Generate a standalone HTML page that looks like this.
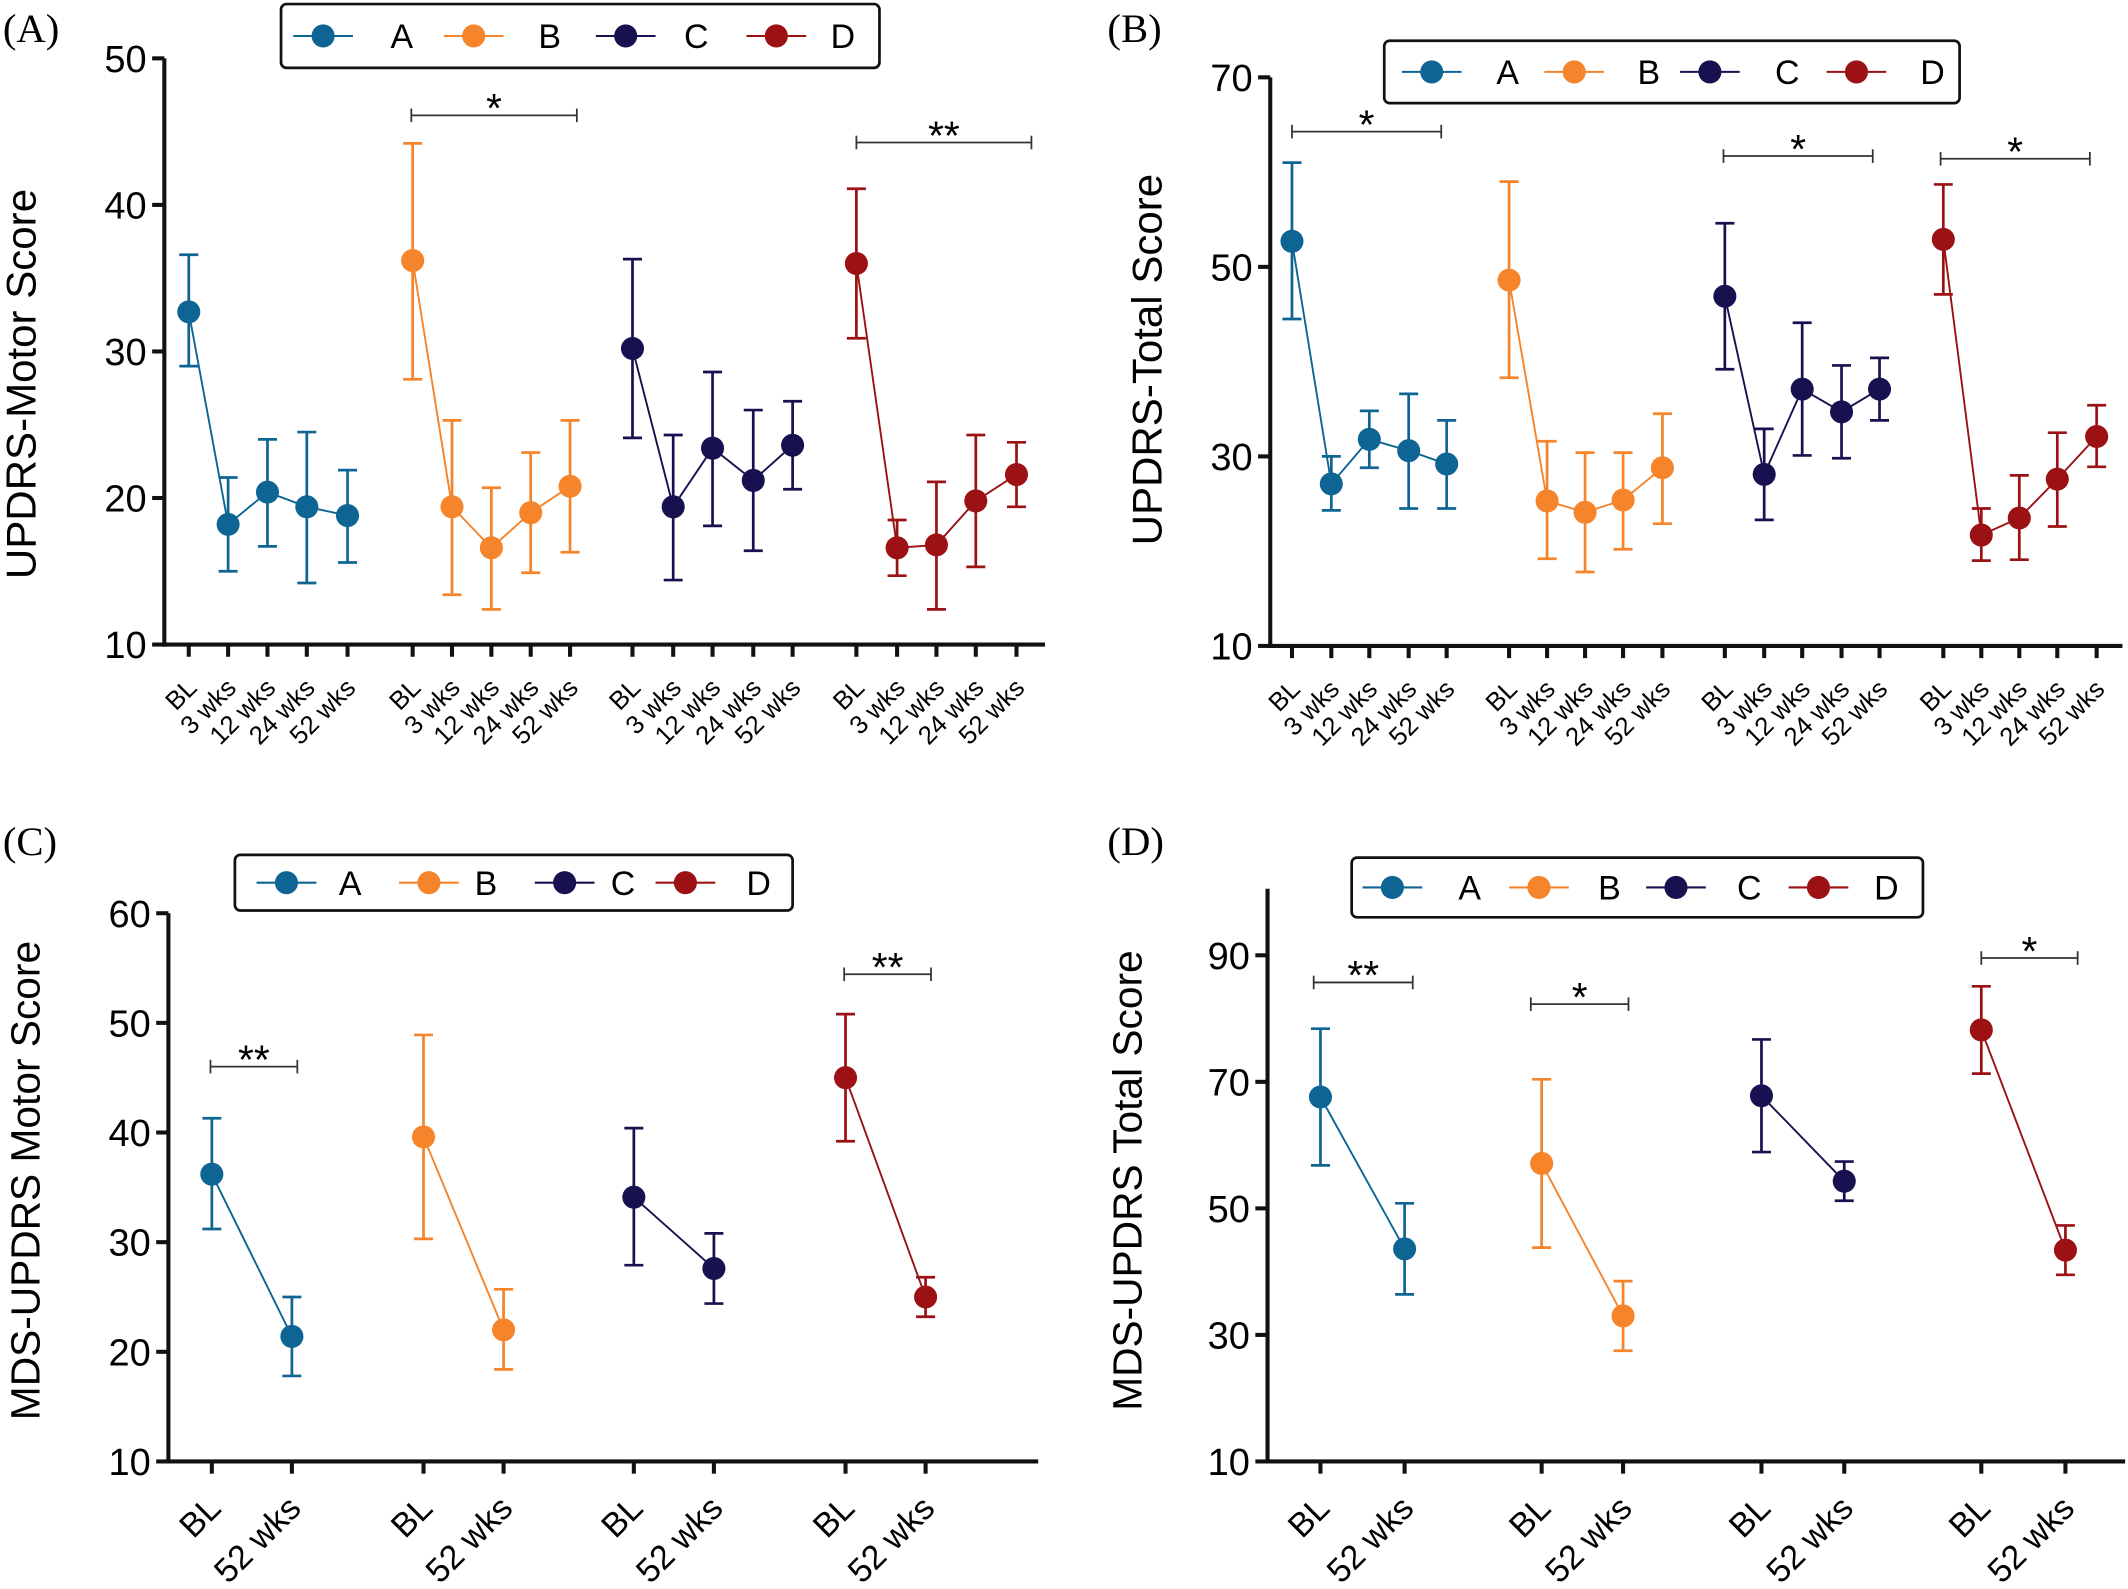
<!DOCTYPE html>
<html><head><meta charset="utf-8"><style>html,body{margin:0;padding:0;background:#fff}svg{display:block}</style></head>
<body>
<svg id="s" xmlns="http://www.w3.org/2000/svg" width="2128" height="1589" viewBox="0 0 1568 1171" font-family="Liberation Sans, Arial, sans-serif">
<rect width="1568" height="1171" fill="#fff"/>
<text x="2" y="31" font-family="Liberation Serif, serif" font-size="30">(A)</text>
<text x="816" y="31" font-family="Liberation Serif, serif" font-size="30">(B)</text>
<text x="2" y="630" font-family="Liberation Serif, serif" font-size="30">(C)</text>
<text x="816" y="630" font-family="Liberation Serif, serif" font-size="30">(D)</text>
<text transform="translate(26,283) rotate(-90)" text-anchor="middle" font-size="31">UPDRS-Motor Score</text>
<text transform="translate(856,265) rotate(-90)" text-anchor="middle" font-size="31">UPDRS-Total Score</text>
<text transform="translate(29,870) rotate(-90)" text-anchor="middle" font-size="30">MDS-UPDRS Motor Score</text>
<text transform="translate(841,870) rotate(-90)" text-anchor="middle" font-size="30">MDS-UPDRS Total Score</text>
<g id="g"></g>
</svg>
<script>
var C=["#0e6593","#f5842a","#17124f","#9b1114"];
var NS="http://www.w3.org/2000/svg",G=document.getElementById("g");
function el(t,a,txt){var e=document.createElementNS(NS,t);for(var k in a)e.setAttribute(k,a[k]);if(txt!==undefined)e.textContent=txt;G.appendChild(e);return e;}
function panel(p){
 function Y(v){return p.y0+(v-p.v0)*(p.y1-p.y0)/(p.v1-p.v0);}
 el("line",{x1:p.ax,y1:p.top,x2:p.ax,y2:p.y0+1.5,stroke:"#111","stroke-width":3});
 el("line",{x1:p.ax-1.5,y1:p.y0,x2:p.xe,y2:p.y0,stroke:"#111","stroke-width":3});
 p.yt.forEach(function(v){var y=Y(v);el("line",{x1:p.ax-9,y1:y,x2:p.ax,y2:y,stroke:"#111","stroke-width":3});
  el("text",{x:p.ax-13,y:y+10,"text-anchor":"end","font-size":28},String(v));});
 p.g.forEach(function(gr,gi){
  gr.x.forEach(function(x,i){el("line",{x1:x,y1:p.y0,x2:x,y2:p.y0+9,stroke:"#111","stroke-width":3});
   var lx=x+p.lo, ly=p.y0+p.ly;
   el("text",{transform:"translate("+lx+","+ly+") rotate(-45)","text-anchor":"end","font-size":p.fs},p.lab[i]);});
  var pts=gr.x.map(function(x,i){return x+","+Y(gr.d[i][0]);}).join(" ");
  el("polyline",{points:pts,fill:"none",stroke:C[gi],"stroke-width":1.4});
  gr.x.forEach(function(x,i){var d=gr.d[i],a=Y(d[1]),b=Y(d[2]);
   el("line",{x1:x,y1:a,x2:x,y2:b,stroke:C[gi],"stroke-width":2});
   el("line",{x1:x-7,y1:a,x2:x+7,y2:a,stroke:C[gi],"stroke-width":2});
   el("line",{x1:x-7,y1:b,x2:x+7,y2:b,stroke:C[gi],"stroke-width":2});
   el("circle",{cx:x,cy:Y(d[0]),r:8.5,fill:C[gi]});});
 });
 p.sig.forEach(function(s){el("line",{x1:s[0],y1:s[2],x2:s[1],y2:s[2],stroke:"#333","stroke-width":1.3});
  el("line",{x1:s[0],y1:s[2]-5,x2:s[0],y2:s[2]+5,stroke:"#333","stroke-width":1.3});
  el("line",{x1:s[1],y1:s[2]-5,x2:s[1],y2:s[2]+5,stroke:"#333","stroke-width":1.3});
  el("text",{x:(s[0]+s[1])/2,y:s[2]+5,"text-anchor":"middle","font-size":30},s[3]);});
 var L=p.leg;
 el("rect",{x:L.x,y:L.y,width:L.w,height:L.h,rx:4,fill:"#fff",stroke:"#111","stroke-width":2});
 var cy=L.y+L.h/2;
 ["A","B","C","D"].forEach(function(t,i){var cx=L.c[i];
  el("line",{x1:cx-22,y1:cy,x2:cx+22,y2:cy,stroke:C[i],"stroke-width":1.5});
  el("circle",{cx:cx,cy:cy,r:8.5,fill:C[i]});
  el("text",{x:L.t[i],y:cy+9,"text-anchor":"middle","font-size":25},t);});
}
var L5=["BL","3 wks","12 wks","24 wks","52 wks"],L2=["BL","52 wks"];
panel({ax:121,top:43,xe:770,y0:475,y1:43,v0:10,v1:50,yt:[10,20,30,40,50],lab:L5,fs:19,lo:7,ly:33,
 g:[{x:[139,168,197,226,256],d:[[32.7,29,36.6],[18.2,15,21.4],[20.4,16.7,24],[19.4,14.2,24.5],[18.8,15.6,21.9]]},
 {x:[304,333,362,391,420],d:[[36.2,28.1,44.2],[19.4,13.4,25.3],[16.6,12.4,20.7],[19,14.9,23.1],[20.8,16.3,25.3]]},
 {x:[466,496,525,555,584],d:[[30.2,24.1,36.3],[19.4,14.4,24.3],[23.4,18.1,28.6],[21.2,16.4,26],[23.6,20.6,26.6]]},
 {x:[631,661,690,719,749],d:[[36,30.9,41.1],[16.6,14.7,18.5],[16.8,12.4,21.1],[19.8,15.3,24.3],[21.6,19.4,23.8]]}],
 sig:[[303,425,85,"*"],[631,760,105,"**"]],
 leg:{x:207,y:3,w:441,h:47,c:[238,349,461,572],t:[296,405,513,621]}});
panel({ax:936,top:57,xe:1564,y0:476,y1:57,v0:10,v1:70,yt:[10,30,50,70],lab:L5,fs:19,lo:7,ly:33,
 g:[{x:[952,981,1009,1038,1066],d:[[52.7,44.5,61],[27.1,24.3,30],[31.8,28.8,34.8],[30.6,24.5,36.6],[29.2,24.5,33.8]]},
 {x:[1112,1140,1168,1196,1225],d:[[48.6,38.3,59],[25.3,19.2,31.6],[24.1,17.8,30.4],[25.4,20.2,30.4],[28.8,22.9,34.5]]},
 {x:[1271,1300,1328,1357,1385],d:[[46.9,39.2,54.6],[28.1,23.3,32.9],[37.1,30.1,44.1],[34.7,29.8,39.6],[37.1,33.8,40.4]]},
 {x:[1432,1460,1488,1516,1545],d:[[52.9,47.1,58.7],[21.7,19,24.5],[23.5,19.1,28],[27.6,22.6,32.5],[32.1,28.9,35.4]]}],
 sig:[[952,1062,97,"*"],[1270,1380,115,"*"],[1430,1540,117,"*"]],
 leg:{x:1020,y:30,w:424,h:46,c:[1055,1160,1260,1368],t:[1111,1215,1317,1424]}});
panel({ax:124,top:673,xe:765,y0:1077,y1:673,v0:10,v1:60,yt:[10,20,30,40,50,60],lab:L2,fs:25,lo:8,ly:36,
 g:[{x:[156,215],d:[[36.2,31.2,41.3],[21.4,17.8,25]]},{x:[312,371],d:[[39.6,30.3,48.9],[22,18.4,25.7]]},
 {x:[467,526],d:[[34.1,27.9,40.4],[27.6,24.4,30.8]]},{x:[623,682],d:[[45,39.2,50.8],[25,23.2,26.8]]}],
 sig:[[155,219,786,"**"],[622,686,718,"**"]],
 leg:{x:173,y:630,w:411,h:41,c:[211,316,416,505],t:[258,358,459,559]}});
panel({ax:934,top:655,xe:1566,y0:1077,y1:704,v0:10,v1:90,yt:[10,30,50,70,90],lab:L2,fs:25,lo:8,ly:36,
 g:[{x:[973,1035],d:[[67.6,56.8,78.4],[43.6,36.4,50.8]]},{x:[1136,1196],d:[[57.1,43.8,70.4],[33,27.5,38.5]]},
 {x:[1298,1359],d:[[67.8,58.9,76.7],[54.3,51.2,57.4]]},{x:[1460,1522],d:[[78.2,71.3,85.1],[43.4,39.5,47.3]]}],
 sig:[[968,1041,724,"**"],[1128,1200,740,"*"],[1460,1531,706,"*"]],
 leg:{x:996,y:632,w:421,h:44,c:[1026,1134,1235,1340],t:[1083,1186,1289,1390]}});
</script>
</body></html>
